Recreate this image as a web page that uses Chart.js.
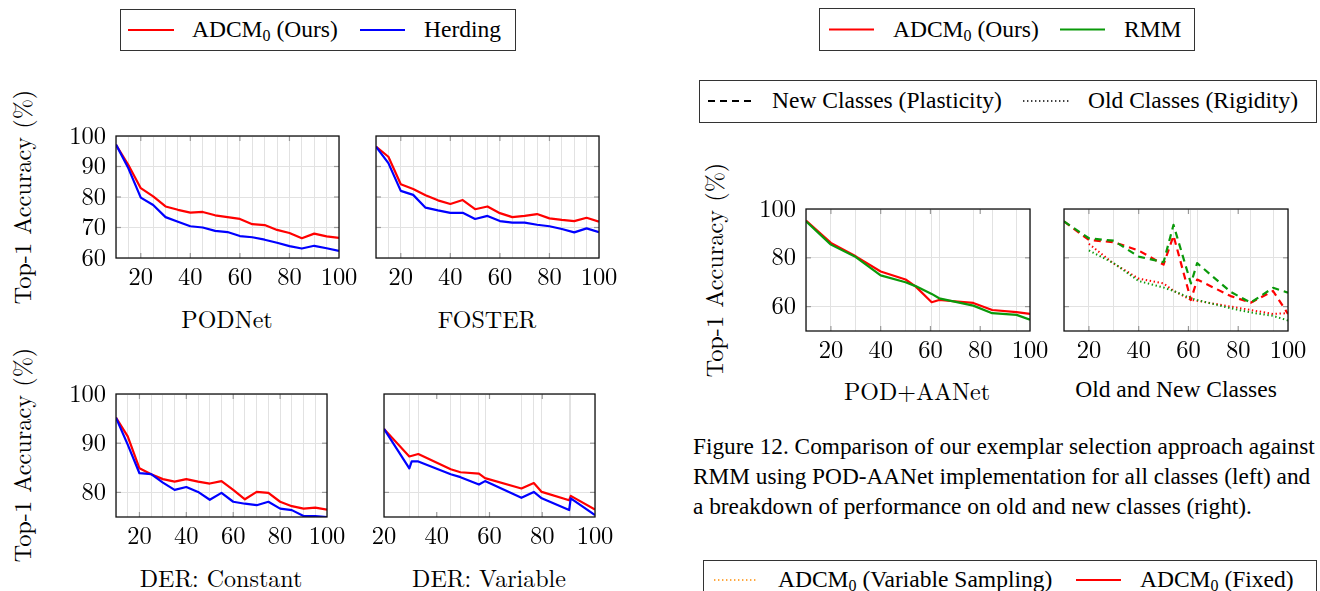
<!DOCTYPE html>
<html><head><meta charset="utf-8">
<script src="https://cdn.jsdelivr.net/npm/chart.js@4.4.1/dist/chart.umd.min.js"></script>
<style>
html,body{margin:0;padding:0;background:#fff;}
body{width:1320px;height:591px;overflow:hidden;position:relative;color:#000;}
.box{position:absolute;border:1.4px solid #333;box-sizing:border-box;background:#fff;}
.t{position:absolute;white-space:nowrap;line-height:1;}
.tm{font-family:'Liberation Serif','TeX Gyre Termes','Times',serif;}
.cm{font-family:'Latin Modern Roman','Liberation Serif',serif;}
.ctr{transform:translate(-50%,-50%);}
.rot{transform:translate(-50%,-50%) rotate(-90deg);}
sub{font-size:68%;vertical-align:-0.28em;line-height:0;}
canvas{position:absolute;}
svg{position:absolute;overflow:visible;}
</style></head><body>

<!-- Left legend -->
<div class="box" style="left:120px;top:9px;width:396px;height:42px"></div>
<svg style="left:0;top:0" width="1" height="1"><line x1="128" y1="30" x2="174" y2="30" stroke="#ff0000" stroke-width="2.2"/><line x1="360" y1="30" x2="405" y2="30" stroke="#0000ff" stroke-width="2.2"/></svg>
<div class="t tm" style="left:192px;top:18px;font-size:23.5px">ADCM<sub>0</sub> (Ours)</div>
<div class="t tm" style="left:424px;top:18px;font-size:23.5px">Herding</div>

<!-- Right legends -->
<div class="box" style="left:819px;top:8px;width:376px;height:43px"></div>
<svg style="left:0;top:0" width="1" height="1"><line x1="829" y1="29.5" x2="874" y2="29.5" stroke="#ff0000" stroke-width="2.2"/><line x1="1060" y1="29.5" x2="1105" y2="29.5" stroke="#0a990a" stroke-width="2.2"/></svg>
<div class="t tm" style="left:893px;top:17.5px;font-size:23.5px">ADCM<sub>0</sub> (Ours)</div>
<div class="t tm" style="left:1124px;top:17.5px;font-size:23.5px">RMM</div>

<div class="box" style="left:699px;top:80px;width:618px;height:43px"></div>
<svg style="left:0;top:0" width="1" height="1"><line x1="708" y1="101" x2="754" y2="101" stroke="#000" stroke-width="2" stroke-dasharray="7,5"/><line x1="1023" y1="101" x2="1070" y2="101" stroke="#000" stroke-width="1.6" stroke-dasharray="1.4,2.6"/></svg>
<div class="t tm" style="left:772px;top:89px;font-size:23.5px">New Classes (Plasticity)</div>
<div class="t tm" style="left:1088px;top:89px;font-size:23.5px">Old Classes (Rigidity)</div>

<!-- Caption -->
<div class="t tm" style="left:693px;top:434.5px;font-size:23.3px">Figure 12. Comparison of our exemplar selection approach against</div>
<div class="t tm" style="left:693px;top:464.5px;font-size:23.3px">RMM using POD-AANet implementation for all classes (left) and</div>
<div class="t tm" style="left:693px;top:494.5px;font-size:23.3px">a breakdown of performance on old and new classes (right).</div>

<!-- Bottom legend -->
<div class="box" style="left:703px;top:560px;width:614px;height:45px"></div>
<svg style="left:0;top:0" width="1" height="1"><line x1="714" y1="580" x2="758" y2="580" stroke="#ff8c00" stroke-width="1.6" stroke-dasharray="1.4,2.6"/><line x1="1076" y1="580" x2="1121" y2="580" stroke="#ff0000" stroke-width="2.2"/></svg>
<div class="t tm" style="left:778px;top:568px;font-size:23.5px">ADCM<sub>0</sub> (Variable Sampling)</div>
<div class="t tm" style="left:1140px;top:568px;font-size:23.5px">ADCM<sub>0</sub> (Fixed)</div>

<!-- Axis titles -->
<div class="t cm rot" style="left:21px;top:197px;font-size:24.3px">Top-1 Accuracy (%)</div>
<div class="t cm rot" style="left:21px;top:455px;font-size:24.3px">Top-1 Accuracy (%)</div>
<div class="t cm rot" style="left:713px;top:270px;font-size:24.3px">Top-1 Accuracy (%)</div>
<div class="t cm ctr" style="left:227px;top:318px;font-size:24px">PODNet</div>
<div class="t cm ctr" style="left:487px;top:318px;font-size:24px">FOSTER</div>
<div class="t cm ctr" style="left:221px;top:577px;font-size:24px">DER: Constant</div>
<div class="t cm ctr" style="left:489px;top:577px;font-size:24px">DER: Variable</div>
<div class="t cm ctr" style="left:917px;top:390px;font-size:24px">POD+AANet</div>
<div class="t tm ctr" style="left:1176px;top:390px;font-size:23.5px">Old and New Classes</div>

<script>
// ---------- DATA ----------
const taskX = [10,15,20,25,30,35,40,45,50,55,60,65,70,75,80,85,90,95,100];
const xTickLabels = [20,40,60,80,100];

const podnetOurs    = [97.1,90.5,82.9,80.2,76.9,75.8,74.9,75.1,74.0,73.4,72.8,71.1,70.8,69.2,68.2,66.5,68.0,67.1,66.6];
const podnetHerding = [97.2,89.4,79.8,77.4,73.4,71.9,70.4,70.0,68.9,68.5,67.2,66.8,66.0,65.0,63.9,63.1,64.0,63.2,62.3];

const fosterOurs    = [96.5,93.2,84.2,82.6,80.6,78.9,77.7,79.0,76.0,76.9,74.7,73.4,73.8,74.4,73.0,72.5,72.1,73.2,71.9];
const fosterHerding = [96.5,91.1,82.0,80.7,76.5,75.6,74.8,74.8,72.8,73.8,72.1,71.6,71.6,70.9,70.4,69.5,68.4,69.7,68.5];

const derConstOurs    = [95.2,91.4,84.9,83.7,82.7,82.2,82.7,82.2,81.8,82.3,80.5,78.6,80.1,79.9,78.1,77.2,76.7,76.9,76.5];
const derConstHerding = [95.2,89.7,83.9,83.7,82.0,80.5,81.1,80.1,78.5,79.9,78.1,77.7,77.4,78.1,76.7,76.4,75.2,75.2,75.0];

const derVarX        = [20,29.6,33,45.3,49,56,58.3,72.1,76.8,79.8,90.2,90.8,100];
const derVarOurs     = [92.9,87.3,87.8,84.7,84.1,83.8,82.9,80.8,81.9,80.1,78.4,79.3,76.5];
const derVarHerdingX = [20,29.6,30.5,33,45.3,49,56,58.3,72.1,76.8,79.8,90.2,90.8,100];
const derVarHerding  = [92.9,84.9,86.3,86.3,83.7,83.1,81.6,82.3,78.9,80.1,78.8,76.4,78.8,75.4];

const podAAX    = [10,20,30,40,50,54,60.5,63.5,77.2,84.8,94.6,100];
const podAAOurs = [95.3,86.1,80.6,74.4,71.1,68.3,61.8,62.7,61.5,58.6,57.7,57.0];
const podAARmm  = [95.0,85.4,80.3,72.8,70.0,68.4,65.2,63.4,60.4,57.3,56.6,54.6];

const oldNewX   = [10,20,30,40,50,54,61,63.5,77,85,94,100];
const newOurs   = [94.9,87.3,86.4,83.0,77.2,89.1,62.7,71.1,64.3,61.6,66.4,57.0];
const newRmm    = [94.9,88.0,87.0,80.5,78.2,93.5,69.5,77.8,66.0,61.6,67.7,65.7];
const oldX      = [20,30,40,50,54,61,63.5,77,85,94,100];
const oldOurs   = [85.7,77.6,71.5,69.5,66.5,62.7,62.4,60.0,58.6,57.0,57.3];
const oldRmm    = [83.0,77.8,70.5,67.8,66.4,63.4,62.7,59.3,57.6,56.2,54.3];

const yTicksTop = [60,70,80,90,100];
const yTicksDer = [80,90,100];
const yTicksPod = [60,80,100];

// ---------- STYLE ----------
const RED='#ff0000', BLUE='#0000ff', GREEN='#0a990a', GRID='#e2e2e2';
const TICK_FONT = {family:"'Latin Modern Roman','Liberation Serif',serif", size:24.5};

function pts(xs, ys){ return xs.map((x,i)=>({x:x, y:ys[i]})); }

const framePlugin = {
  id:'frame',
  afterDraw(chart, args, opts){
    const ctx = chart.ctx, a = chart.chartArea, x = chart.scales.x, y = chart.scales.y;
    ctx.save();
    ctx.strokeStyle = '#9a9a9a'; ctx.lineWidth = 1.2;
    const len = 5;
    const seg = (x1,y1,x2,y2)=>{ctx.beginPath();ctx.moveTo(x1,y1);ctx.lineTo(x2,y2);ctx.stroke();};
    (opts.xMajor||[]).forEach(v=>{
      const p = x.getPixelForValue(v);
      if (p > a.left+1 && p < a.right-1){ seg(p,a.top,p,a.top+len); seg(p,a.bottom,p,a.bottom-len); }
    });
    (opts.yMajor||[]).forEach(v=>{
      const p = y.getPixelForValue(v);
      if (p > a.top+1 && p < a.bottom-1){ seg(a.left,p,a.left+len,p); seg(a.right,p,a.right-len,p); }
    });
    ctx.strokeStyle = '#111'; ctx.lineWidth = 1.3;
    ctx.strokeRect(a.left, a.top, a.right-a.left, a.bottom-a.top);
    ctx.restore();
  }
};

function makeChart(g, cfg){
  const c = document.createElement('canvas');
  const W = g.ya + (g.R-g.L) + g.pr, H = g.pt + (g.B-g.T) + g.xa;
  c.width = W; c.height = H;
  c.style.left = (g.L-g.ya)+'px'; c.style.top = (g.T-g.pt)+'px';
  c.style.width = W+'px'; c.style.height = H+'px';
  document.body.appendChild(c);
  const xTickVals = Array.from(new Set(cfg.gridX.concat(cfg.xLabels))).sort((a,b)=>a-b);
  new Chart(c, {
    type:'line',
    data:{datasets:cfg.datasets},
    options:{
      responsive:false, animation:false, devicePixelRatio:1,
      layout:{padding:{top:g.pt, right:g.pr, left:0, bottom:0}},
      plugins:{legend:{display:false}, tooltip:{enabled:false}, frame:{xMajor:cfg.xLabels, yMajor:cfg.yTicks}},
      elements:{point:{radius:0, hoverRadius:0}, line:{tension:0, borderWidth:2.2, borderJoinStyle:'round'}},
      scales:{
        x:{type:'linear', min:cfg.xMin, max:cfg.xMax,
          afterBuildTicks:s=>{ s.ticks = xTickVals.map(v=>({value:v})); },
          afterFit:s=>{ s.height = g.xa; s.paddingLeft = 0; s.paddingRight = 0; },
          ticks:{autoSkip:false, maxRotation:0, minRotation:0, padding:5, color:'#000', font:TICK_FONT,
            callback:v=> cfg.xLabels.includes(v) ? String(v) : ''},
          grid:{drawTicks:false, lineWidth:1, color:ctx=> (ctx.tick && cfg.gridX.includes(ctx.tick.value)) ? GRID : 'rgba(0,0,0,0)'},
          border:{display:false}
        },
        y:{type:'linear', min:cfg.yMin, max:cfg.yMax,
          afterBuildTicks:s=>{ s.ticks = cfg.yTicks.map(v=>({value:v})); },
          afterFit:s=>{ s.width = g.ya; s.paddingTop = 0; s.paddingBottom = 0; },
          ticks:{display:cfg.yLabels, autoSkip:false, padding:10, color:'#000', font:TICK_FONT, callback:v=>String(v)},
          grid:{drawTicks:false, lineWidth:1, color:GRID},
          border:{display:false}
        }
      }
    },
    plugins:[framePlugin]
  });
}

function solid(data, color, order){ return {data:data, borderColor:color, backgroundColor:color, fill:false, order:order}; }

// PODNet
makeChart({L:116,R:339,T:136,B:258,ya:60,pt:15,pr:25,xa:40},
  {xMin:10,xMax:100,yMin:60,yMax:100,yTicks:yTicksTop,yLabels:true,gridX:taskX,xLabels:xTickLabels,
   datasets:[solid(pts(taskX,podnetOurs),RED,2), solid(pts(taskX,podnetHerding),BLUE,1)]});
// FOSTER
makeChart({L:376,R:599,T:136,B:258,ya:20,pt:15,pr:25,xa:40},
  {xMin:10,xMax:100,yMin:60,yMax:100,yTicks:yTicksTop,yLabels:false,gridX:taskX,xLabels:xTickLabels,
   datasets:[solid(pts(taskX,fosterOurs),RED,2), solid(pts(taskX,fosterHerding),BLUE,1)]});
// DER: Constant
makeChart({L:116,R:327,T:394,B:517,ya:60,pt:15,pr:25,xa:40},
  {xMin:10,xMax:100,yMin:75,yMax:100,yTicks:yTicksDer,yLabels:true,gridX:taskX,xLabels:xTickLabels,
   datasets:[solid(pts(taskX,derConstOurs),RED,2), solid(pts(taskX,derConstHerding),BLUE,1)]});
// DER: Variable
makeChart({L:384,R:595,T:394,B:517,ya:20,pt:15,pr:25,xa:40},
  {xMin:20,xMax:100,yMin:75,yMax:100,yTicks:yTicksDer,yLabels:false,gridX:derVarX,xLabels:xTickLabels,
   datasets:[solid(pts(derVarX,derVarOurs),RED,2), solid(pts(derVarHerdingX,derVarHerding),BLUE,1)]});
// POD+AANet
makeChart({L:806,R:1030,T:209,B:331,ya:60,pt:15,pr:25,xa:40},
  {xMin:10,xMax:100,yMin:50,yMax:100,yTicks:yTicksPod,yLabels:true,gridX:podAAX,xLabels:xTickLabels,
   datasets:[solid(pts(podAAX,podAAOurs),RED,2), solid(pts(podAAX,podAARmm),GREEN,1)]});
// Old and New Classes
const dashed=[7,5], dotted=[1.4,2.6];
makeChart({L:1064,R:1288,T:209,B:331,ya:20,pt:15,pr:25,xa:40},
  {xMin:10,xMax:100,yMin:50,yMax:100,yTicks:yTicksPod,yLabels:false,gridX:oldNewX,xLabels:xTickLabels,
   datasets:[
     Object.assign(solid(pts(oldNewX,newOurs),RED,4),{borderDash:dashed}),
     Object.assign(solid(pts(oldNewX,newRmm),GREEN,3),{borderDash:dashed}),
     Object.assign(solid(pts(oldX,oldOurs),RED,2),{borderDash:dotted, borderWidth:2}),
     Object.assign(solid(pts(oldX,oldRmm),GREEN,1),{borderDash:dotted, borderWidth:2})
   ]});
</script>
</body></html>
